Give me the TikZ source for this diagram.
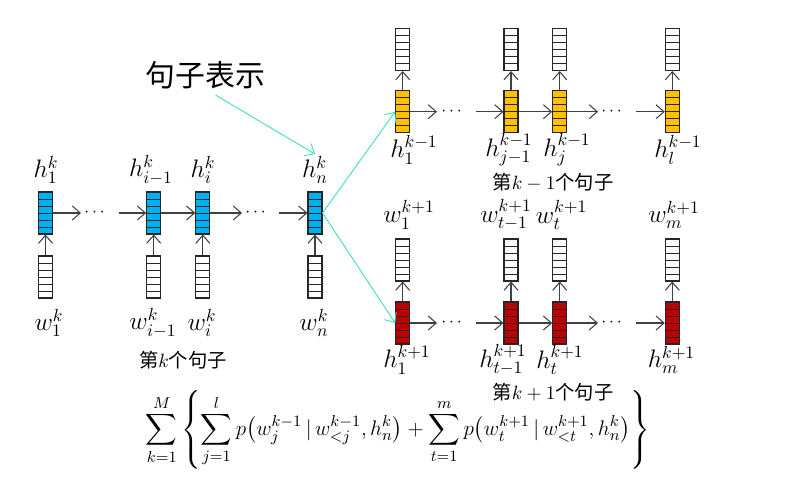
\documentclass[tikz,border=0pt]{standalone}
\usepackage{amsmath,amssymb}
\usepackage{fontspec}
\newfontfamily\cjk{Noto Sans CJK SC}
\usetikzlibrary{arrows.meta,calc}
\definecolor{cellblue}{RGB}{0,176,240}
\definecolor{cellorange}{RGB}{255,192,0}
\definecolor{cellred}{RGB}{192,0,0}
\definecolor{linkcol}{RGB}{60,222,190}

\tikzset{
  vec/.style={draw=black!85, fill=#1, minimum width=0.28cm, minimum height=0.84cm, inner sep=0pt, line width=0.6pt,
    path picture={\foreach \k in {1,...,5}{\draw[line width=0.5pt] ($(path picture bounding box.north west)!\k/6!(path picture bounding box.south west)$) -- ($(path picture bounding box.north east)!\k/6!(path picture bounding box.south east)$);}}},
  vec/.default=white,
  lbl/.style={font=\Large, inner sep=1pt},
  dots/.style={font=\normalsize, inner sep=0pt},
  grp/.style={font=\cjk\fontsize{11}{13}\selectfont},
  arr/.style={draw=black!75, line width=0.6pt, -{Straight Barb[length=1.6mm,width=2.8mm]}},
  link/.style={draw=linkcol, line width=0.5pt, -{Straight Barb[length=1.6mm,width=2.8mm]}},
}

\begin{document}
\begin{tikzpicture}[x=0.02cm, y=-0.02cm]
  \useasboundingbox (0,0) rectangle (800,486);

  % sentence k (encoder)
  \node[vec=cellblue] (b1) at (45.5,213) {};
  \node[vec=cellblue] (bi1) at (153.7,213) {};
  \node[vec=cellblue] (bi) at (202.8,213) {};
  \node[vec=cellblue] (bn) at (315,213) {};
  \node[vec] (x1) at (45.5,277) {};
  \node[vec] (xi1) at (153.7,277) {};
  \node[vec] (xi) at (202.8,277) {};
  \node[vec] (xn) at (315,277) {};
  \node[dots] (ld1) at (96,213) {$\cdots$};
  \node[dots] (ld2) at (257,213) {$\cdots$};

  \node[lbl] (h1) at (46,170) {$h_1^k$};
  \node[lbl] (hi1) at (151,170) {$h_{i-1}^k$};
  \node[lbl] (hi) at (203,170) {$h_i^k$};
  \node[lbl] (hn) at (315,170) {$h_n^k$};
  \node[lbl] (w1) at (49,323) {$w_1^k$};
  \node[lbl] (wi1) at (153,323) {$w_{i-1}^k$};
  \node[lbl] (wi) at (202,323) {$w_i^k$};
  \node[lbl] (wn) at (314,323) {$w_n^k$};
  \node[grp] (gk) at (183,360) {第$k$个句子};

  \draw[arr] (b1.east) -- ([xshift=-0.3cm]ld1.center);
  \draw[arr] ([xshift=0.46cm]ld1.center) -- (bi1.west);
  \draw[arr] (bi1) -- (bi);
  \draw[arr] (bi.east) -- ([xshift=-0.3cm]ld2.center);
  \draw[arr] ([xshift=0.44cm]ld2.center) -- (bn.west);
  \foreach \a/\b in {x1/b1, xi1/bi1, xi/bi, xn/bn}
    \draw[arr] (\a) -- (\b);

  % sentence k-1 (decoder)
  \node[vec=cellorange] (o1) at (402.7,111.7) {};
  \node[vec=cellorange] (oj1) at (511,111.7) {};
  \node[vec=cellorange] (oj) at (559.7,111.7) {};
  \node[vec=cellorange] (ol) at (672.3,111.7) {};
  \node[vec] (p1) at (402.7,49.5) {};
  \node[vec] (pj1) at (511,49.5) {};
  \node[vec] (pj) at (559.7,49.5) {};
  \node[vec] (pl) at (672.3,49.5) {};
  \node[dots] (ud1) at (453,111.7) {$\cdots$};
  \node[dots] (ud2) at (613,111.7) {$\cdots$};

  \node[lbl] (g1) at (414,150) {$h_1^{k-1}$};
  \node[lbl] (gj1) at (509,150) {$h_{j-1}^{k-1}$};
  \node[lbl] (gj) at (567,150) {$h_j^{k-1}$};
  \node[lbl] (gl) at (678,150) {$h_l^{k-1}$};
  \node[grp] (gprev) at (553,182) {第$k-1$个句子};

  \draw[arr] (o1.east) -- ([xshift=-0.32cm]ud1.center);
  \draw[arr] ([xshift=0.46cm]ud1.center) -- (oj1.west);
  \draw[arr] (oj1) -- (oj);
  \draw[arr] (oj.east) -- ([xshift=-0.3cm]ud2.center);
  \draw[arr] ([xshift=0.46cm]ud2.center) -- (ol.west);
  \foreach \a/\b in {o1/p1, oj1/pj1, oj/pj, ol/pl}
    \draw[arr] (\a) -- (\b);

  % sentence k+1 (decoder)
  \node[vec=cellred] (r1) at (402.7,323) {};
  \node[vec=cellred] (rt1) at (511,323) {};
  \node[vec=cellred] (rt) at (559.7,323) {};
  \node[vec=cellred] (rm) at (672.3,323) {};
  \node[vec] (q1) at (402.7,260) {};
  \node[vec] (qt1) at (511,260) {};
  \node[vec] (qt) at (559.7,260) {};
  \node[vec] (qm) at (672.3,260) {};
  \node[dots] (dd1) at (453,323) {$\cdots$};
  \node[dots] (dd2) at (613,323) {$\cdots$};

  \node[lbl] (u1) at (409,215) {$w_1^{k+1}$};
  \node[lbl] (ut1) at (506,215) {$w_{t-1}^{k+1}$};
  \node[lbl] (ut) at (561.5,215) {$w_t^{k+1}$};
  \node[lbl] (um) at (674,215) {$w_m^{k+1}$};
  \node[lbl] (s1) at (407,360) {$h_1^{k+1}$};
  \node[lbl] (st1) at (503,360) {$h_{t-1}^{k+1}$};
  \node[lbl] (st) at (560,360) {$h_t^{k+1}$};
  \node[lbl] (sm) at (671.5,360) {$h_m^{k+1}$};
  \node[grp] (gnext) at (553,392) {第$k+1$个句子};

  \draw[arr] (r1.east) -- ([xshift=-0.32cm]dd1.center);
  \draw[arr] ([xshift=0.46cm]dd1.center) -- (rt1.west);
  \draw[arr] (rt1) -- (rt);
  \draw[arr] (rt.east) -- ([xshift=-0.3cm]dd2.center);
  \draw[arr] ([xshift=0.46cm]dd2.center) -- (rm.west);
  \foreach \a/\b in {r1/q1, rt1/qt1, rt/qt, rm/qm}
    \draw[arr] (\a) -- (\b);

  % sentence vector
  \node[font=\cjk\fontsize{17}{20}\selectfont] (title) at (205.5,75) {句子表示};
  \draw[link] ([xshift=0.2cm]title.south) -- (hn.north);
  \draw[link] (bn.east) -- (o1.west);
  \draw[link] (bn.east) -- (r1.west);

  % objective
  \node[font=\fontsize{12.5}{15}\selectfont, inner sep=0pt] (loss) at (398,430) {$\displaystyle \sum_{k=1}^{M}\left\{\sum_{j=1}^{l} p\bigl(w_j^{k-1}\,|\,w_{<j}^{k-1},h_n^k\bigr)+\sum_{t=1}^{m}p\bigl(w_t^{k+1}\,|\,w_{<t}^{k+1},h_n^k\bigr)\right\}$};
\end{tikzpicture}
\end{document}
